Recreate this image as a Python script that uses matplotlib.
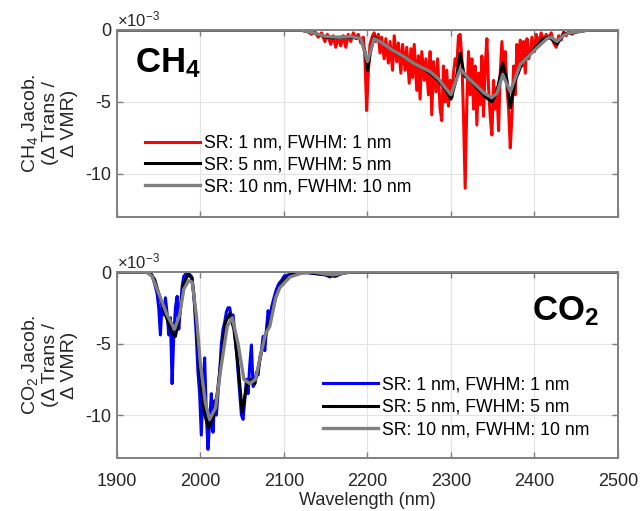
import matplotlib
matplotlib.use('Agg')
import matplotlib.pyplot as plt
from matplotlib import rcParams

rcParams['font.family'] = ['Liberation Sans', 'DejaVu Sans']
rcParams['mathtext.fontset'] = 'custom'
rcParams['mathtext.rm'] = 'Liberation Sans'
rcParams['mathtext.it'] = 'Liberation Sans:italic'
rcParams['mathtext.bf'] = 'Liberation Sans:bold'

# ---- CH4 jacobians (units of 1e-3) ----
ch4_sr1_wl = [1900, 2120, 2128, 2133, 2137, 2141, 2145, 2149, 2152, 2156, 2159, 2162, 2165,
              2168, 2171, 2174, 2177, 2180, 2183, 2186, 2189, 2192, 2195, 2197, 2199, 2201,
              2203, 2206, 2208, 2210, 2213, 2215, 2217, 2220, 2222, 2225, 2227, 2230, 2232,
              2235, 2237, 2240, 2242, 2245, 2247, 2250, 2252, 2254, 2256, 2259, 2261, 2263,
              2265, 2268, 2270, 2273, 2275, 2277, 2279, 2282, 2284, 2287, 2289, 2291, 2293,
              2295, 2297, 2299, 2301, 2303, 2305, 2307, 2309, 2311, 2313, 2315, 2317, 2319,
              2321, 2323, 2325, 2327, 2329, 2331, 2333, 2335, 2337, 2339, 2341, 2343, 2345,
              2347, 2349, 2351, 2353, 2355, 2357, 2359, 2361, 2363, 2365, 2367, 2369, 2371,
              2373, 2375, 2377, 2379, 2381, 2383, 2385, 2387, 2389, 2391, 2393, 2395, 2397,
              2400, 2402, 2405, 2408, 2411, 2414, 2417, 2420, 2423, 2426, 2429, 2432, 2435,
              2438, 2441, 2445, 2450, 2460, 2500]
ch4_sr1 = [0, 0, -0.1, -0.3, -0.1, -0.5, -0.2, -0.8, -0.3, -1.0, -0.4, -1.2, -0.5,
           -1.1, -0.4, -1.2, -0.3, -0.8, -0.2, -0.6, -0.3, -0.9, -0.5, -2.0, -5.6, -3.0,
           -1.0, -0.4, -0.2, -0.8, -0.3, -1.6, -0.5, -2.0, -0.6, -2.3, -0.8, -2.8, -0.4,
           -2.2, -0.9, -3.0, -1.0, -2.8, -1.2, -3.7, -1.3, -3.3, -1.0, -4.2, -1.8, -4.8,
           -1.5, -3.5, -2.0, -4.5, -1.5, -5.9, -2.2, -4.3, -2.0, -5.5, -6.3, -2.5, -5.0,
           -2.8, -5.3, -3.5, -4.7, -3.0, -2.0, -2.5, -0.4, -0.3, -2.0, -6.0, -11.0, -5.0,
           -1.5, -4.5, -2.0, -5.5, -2.5, -6.6, -3.0, -5.2, -1.8, -6.0, -2.5, -0.6, -4.0,
           -6.0, -7.3, -3.5, -5.5, -4.0, -7.0, -3.0, -0.8, -3.0, -1.5, -4.0, -5.5, -8.2,
           -6.0, -2.5, -4.5, -1.0, -3.0, -0.7, -2.5, -0.8, -3.0, -0.6, -2.0, -1.5, -0.5,
           -1.5, -0.3, -1.0, -0.2, -0.8, -0.3, -0.6, -0.2, -0.9, -1.2, -0.4, -0.7, -0.1,
           -0.4, -0.1, -0.3, -0.05, 0, 0]

ch4_sr5_wl = [1900, 2120, 2135, 2150, 2160, 2170, 2180, 2192, 2197, 2200, 2204, 2208, 2215,
              2225, 2235, 2245, 2255, 2265, 2275, 2285, 2293, 2300, 2306, 2311, 2316, 2322,
              2331, 2340, 2349, 2355, 2362, 2367, 2371, 2377, 2385, 2400, 2410, 2418, 2427,
              2434, 2445, 2465, 2500]
ch4_sr5 = [0, 0, -0.2, -0.5, -0.55, -0.5, -0.5, -0.6, -1.5, -2.8, -1.4, -0.5, -0.8,
           -1.2, -1.6, -1.9, -2.3, -2.6, -3.0, -3.5, -4.1, -4.8, -3.5, -1.6, -3.2, -3.4,
           -4.0, -4.6, -5.0, -4.3, -2.3, -3.5, -5.4, -3.5, -2.3, -1.3, -0.6, -0.5, -1.0,
           -0.3, -0.2, 0, 0]

ch4_sr10_wl = [1900, 2120, 2135, 2150, 2165, 2180, 2192, 2200, 2208, 2215, 2230, 2245, 2255,
               2265, 2275, 2285, 2293, 2300, 2311, 2320, 2331, 2340, 2349, 2355, 2362, 2371,
               2383, 2400, 2415, 2420, 2427, 2434, 2442, 2465, 2500]
ch4_sr10 = [0, 0, -0.2, -0.45, -0.5, -0.45, -0.6, -2.2, -0.6, -0.8, -1.4, -1.9, -2.3,
            -2.6, -2.9, -3.4, -4.0, -4.5, -2.7, -3.3, -3.9, -4.4, -4.7, -4.4, -3.1, -4.3,
            -2.4, -1.4, -0.6, -0.5, -0.8, -0.4, -0.2, 0, 0]

# ---- CO2 jacobians (units of 1e-3) ----
co2_sr1_wl = [1900, 1938, 1942, 1945, 1948, 1950, 1952, 1954, 1956, 1958, 1960, 1962, 1964,
              1966, 1968, 1970, 1972, 1974, 1976, 1978, 1980, 1983, 1986, 1989, 1992, 1995,
              1997, 1999, 2001, 2003, 2005, 2007, 2009, 2011, 2013, 2015, 2017, 2019, 2021,
              2023, 2025, 2027, 2029, 2031, 2033, 2035, 2037, 2039, 2041, 2043, 2045, 2047,
              2049, 2051, 2053, 2055, 2057, 2059, 2061, 2063, 2065, 2067, 2069, 2071, 2073,
              2075, 2077, 2079, 2081, 2083, 2085, 2088, 2091, 2094, 2097, 2100, 2105, 2110,
              2120, 2150, 2155, 2158, 2162, 2170, 2180, 2500]
co2_sr1 = [0, 0, -0.2, -0.8, -1.5, -2.5, -4.4, -2.2, -3.0, -1.8, -2.9, -4.4, -3.2,
           -7.8, -4.5, -2.5, -1.7, -4.0, -2.5, -1.0, -0.3, -0.1, -0.1, -0.3, -1.5, -4.5,
           -7.0, -8.5, -11.4, -8.0, -6.0, -10.0, -12.4, -10.5, -8.5, -11.2, -9.0, -10.0, -8.5,
           -7.0, -5.0, -4.0, -3.5, -2.8, -2.5, -2.5, -3.2, -3.0, -4.2, -5.5, -7.0, -8.5,
           -10.0, -10.3, -9.0, -7.5, -8.5, -6.5, -5.1, -8.0, -7.8, -7.0, -7.2, -6.0, -5.5,
           -4.5, -5.5, -4.0, -2.7, -3.5, -2.5, -1.8, -1.2, -0.8, -0.6, -0.3, -0.2, -0.1,
           0, -0.2, -0.35, -0.1, -0.3, -0.05, 0, 0]

co2_sr5_wl = [1900, 1938, 1945, 1952, 1960, 1966, 1970, 1975, 1980, 1985, 1990, 1995, 2000,
              2005, 2010, 2015, 2020, 2025, 2030, 2035, 2040, 2045, 2050, 2055, 2060, 2065,
              2070, 2075, 2080, 2085, 2090, 2095, 2100, 2110, 2125, 2150, 2160, 2170, 2180, 2500]
co2_sr5 = [0, 0, -0.5, -1.9, -3.3, -4.3, -4.5, -3.0, -0.8, -0.2, -0.4, -3.5, -7.5,
           -10.0, -10.9, -10.2, -8.5, -6.0, -3.5, -2.9, -4.0, -6.5, -9.8, -8.0, -7.5, -7.8,
           -6.5, -5.0, -4.0, -3.0, -1.8, -1.0, -0.5, -0.2, 0, -0.2, -0.3, -0.1, 0, 0]

co2_sr10_wl = [1900, 1935, 1942, 1952, 1960, 1969, 1975, 1980, 1986, 1990, 1995, 2000, 2006,
               2011, 2018, 2025, 2032, 2038, 2045, 2052, 2059, 2066, 2072, 2078, 2083, 2090,
               2095, 2107, 2120, 2135, 2150, 2160, 2170, 2180, 2500]
co2_sr10 = [0, 0, -0.3, -1.8, -3.0, -4.0, -3.0, -1.2, -0.6, -0.7, -3.0, -6.5, -9.2,
            -10.3, -9.5, -6.5, -3.8, -3.2, -5.0, -7.5, -7.8, -7.5, -5.8, -4.3, -3.8, -1.8,
            -1.1, -0.35, -0.1, 0, -0.15, -0.2, -0.1, 0, 0]

labels = ['SR: 1 nm, FWHM: 1 nm', 'SR: 5 nm, FWHM: 5 nm', 'SR: 10 nm, FWHM: 10 nm']
x_ticks = [1900, 2000, 2100, 2200, 2300, 2400, 2500]
y_ticks = [-10, -5, 0]

GRAY = '#808080'
fig = plt.figure(figsize=(6.41, 5.11), dpi=100)
ax1 = fig.add_axes([0.1825, 0.5753, 0.7816, 0.366])
ax2 = fig.add_axes([0.1825, 0.1037, 0.7816, 0.364])


def style_axes(ax, show_xlabels):
    ax.set_xlim(1900, 2500)
    ax.set_ylim(-13, 0)
    ax.set_xticks(x_ticks)
    ax.set_yticks(y_ticks)
    ax.set_yticklabels(['-10', '-5', '0'])
    ax.grid(True, color='#e3e3e3', lw=0.8)
    ax.set_axisbelow(True)
    for sp in ax.spines.values():
        sp.set_color(GRAY)
        sp.set_linewidth(1.4)
    ax.tick_params(direction='in', length=4, width=1, color=GRAY,
                   top=True, right=True, labelsize=13, labelcolor='#262626')
    ax.tick_params(axis='y', pad=4)
    ax.tick_params(axis='x', pad=11)
    if not show_xlabels:
        ax.set_xticklabels([])
    ax.text(0.0, 1.005, '×10$^{-3}$', transform=ax.transAxes, ha='left',
            va='bottom', fontsize=12, color='#262626')


l1, = ax1.plot(ch4_sr1_wl, ch4_sr1, color='red', lw=2.2)
l2, = ax1.plot(ch4_sr5_wl, ch4_sr5, color='black', lw=2.2)
l3, = ax1.plot(ch4_sr10_wl, ch4_sr10, color=GRAY, lw=2.4)
style_axes(ax1, False)
ax1.set_ylabel('CH$_4$ Jacob.\n(Δ Trans /\nΔ VMR)', fontsize=14, color='#262626',
               linespacing=1.15)
ax1.yaxis.set_label_coords(-0.078, 0.5)
ax1.text(0.036, 0.775, r'$\mathbf{CH_4}$', transform=ax1.transAxes, fontsize=25,
         ha='left', va='baseline')
ax1.legend([l1, l2, l3], labels, loc='upper left', bbox_to_anchor=(0.056, 0.44),
           frameon=False, fontsize=12.7, handlelength=3.1, handletextpad=0.25,
           labelspacing=0.28, borderpad=0, borderaxespad=0)

b1, = ax2.plot(co2_sr1_wl, co2_sr1, color='blue', lw=2.2)
b2, = ax2.plot(co2_sr5_wl, co2_sr5, color='black', lw=2.2)
b3, = ax2.plot(co2_sr10_wl, co2_sr10, color=GRAY, lw=2.4)
style_axes(ax2, True)
ax2.set_ylabel('CO$_2$ Jacob.\n(Δ Trans /\nΔ VMR)', fontsize=14, color='#262626',
               linespacing=1.15)
ax2.yaxis.set_label_coords(-0.078, 0.5)
ax2.set_xlabel('Wavelength (nm)', fontsize=13, color='#262626', labelpad=1)
ax2.text(0.828, 0.74, r'$\mathbf{CO_2}$', transform=ax2.transAxes, fontsize=25,
         ha='left', va='baseline')
ax2.legend([b1, b2, b3], labels, loc='upper left', bbox_to_anchor=(0.411, 0.44),
           frameon=False, fontsize=12.7, handlelength=3.1, handletextpad=0.25,
           labelspacing=0.32, borderpad=0, borderaxespad=0)

fig.savefig('out.png', dpi=100)
